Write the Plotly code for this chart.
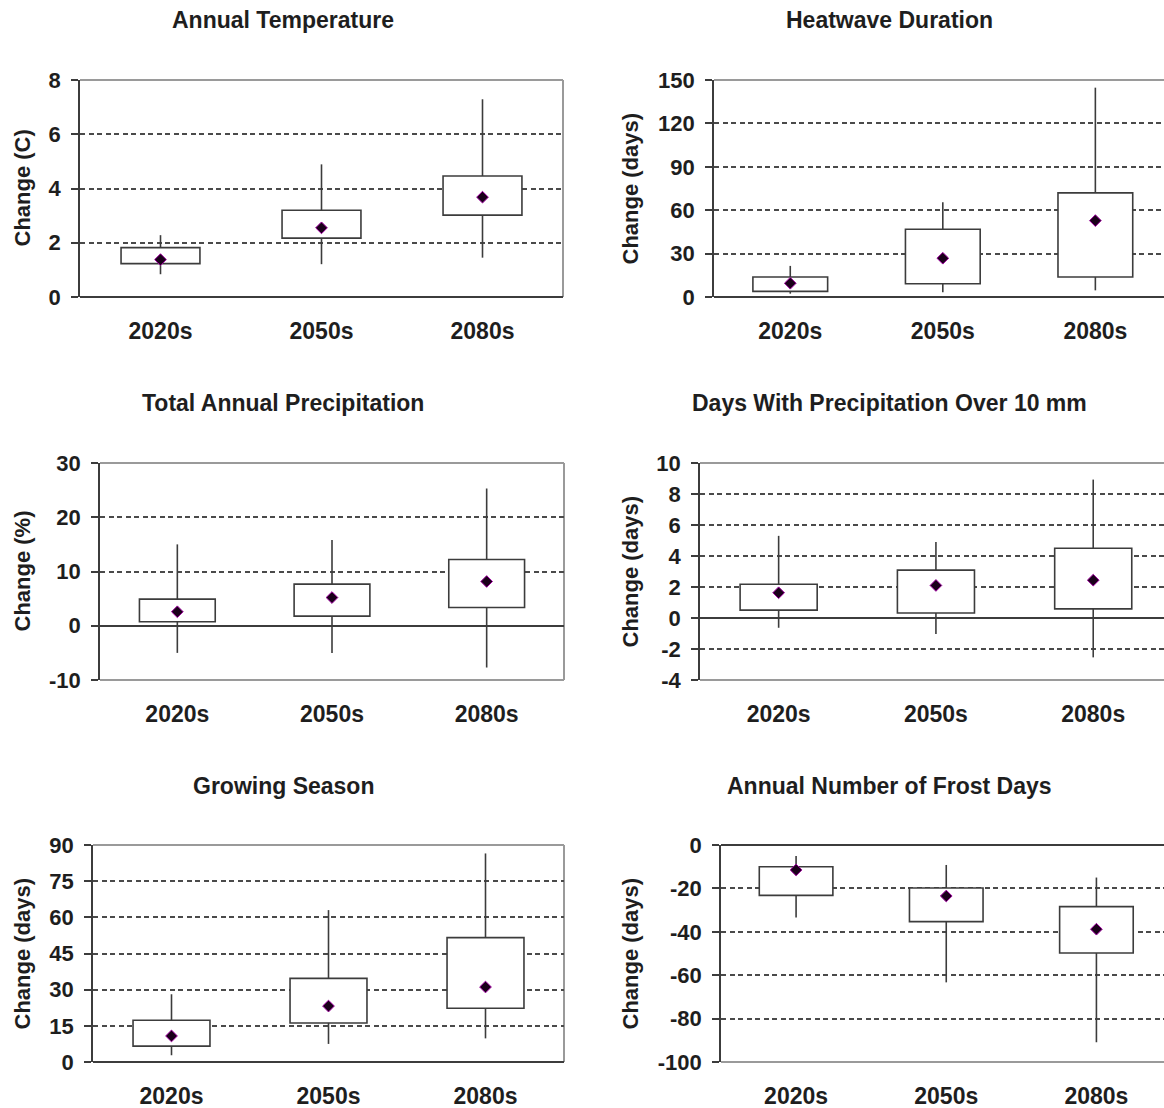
import plotly.graph_objects as go

W, H = 1164, 1108

categories = ["2020s", "2050s", "2080s"]

titles = ["Annual Temperature", "Heatwave Duration",
          "Total Annual Precipitation", "Days With Precipitation Over 10 mm",
          "Growing Season", "Annual Number of Frost Days"]
ytitles = ["Change (C)", "Change (days)", "Change (%)", "Change (days)",
           "Change (days)", "Change (days)"]

# per-panel statistics: min, q1, mean, q3, max for 2020s, 2050s, 2080s
temp_min = [0.84, 1.21, 1.45]
temp_q1 = [1.23, 2.17, 3.02]
temp_mean = [1.38, 2.55, 3.68]
temp_q3 = [1.82, 3.20, 4.46]
temp_max = [2.28, 4.89, 7.29]

heat_min = [2.3, 3.2, 4.6]
heat_q1 = [3.9, 9.2, 13.8]
heat_mean = [9.5, 26.8, 52.8]
heat_q3 = [13.8, 46.8, 72.0]
heat_max = [21.5, 65.5, 144.7]

prec_min = [-5.0, -5.0, -7.7]
prec_q1 = [0.74, 1.78, 3.37]
prec_mean = [2.58, 5.2, 8.16]
prec_q3 = [4.9, 7.67, 12.2]
prec_max = [15.0, 15.8, 25.3]

p10_min = [-0.63, -1.04, -2.54]
p10_q1 = [0.51, 0.32, 0.59]
p10_mean = [1.63, 2.1, 2.44]
p10_q3 = [2.18, 3.09, 4.5]
p10_max = [5.3, 4.91, 8.93]

grow_min = [2.8, 7.5, 9.8]
grow_q1 = [6.6, 16.2, 22.3]
grow_mean = [10.8, 23.2, 31.1]
grow_q3 = [17.3, 34.7, 51.6]
grow_max = [28.1, 63.0, 86.5]

frost_min = [-33.4, -63.3, -90.9]
frost_q1 = [-23.2, -35.3, -49.8]
frost_mean = [-11.5, -23.5, -38.8]
frost_q3 = [-10.0, -19.8, -28.4]
frost_max = [-5.1, -9.2, -15.0]

stats = [
    (temp_min, temp_q1, temp_mean, temp_q3, temp_max),
    (heat_min, heat_q1, heat_mean, heat_q3, heat_max),
    (prec_min, prec_q1, prec_mean, prec_q3, prec_max),
    (p10_min, p10_q1, p10_mean, p10_q3, p10_max),
    (grow_min, grow_q1, grow_mean, grow_q3, grow_max),
    (frost_min, frost_q1, frost_mean, frost_q3, frost_max),
]

# y tick values and labels (hyphen minus as in the reference)
ytickvals = [
    [0, 2, 4, 6, 8],
    [0, 30, 60, 90, 120, 150],
    [-10, 0, 10, 20, 30],
    [-4, -2, 0, 2, 4, 6, 8, 10],
    [0, 15, 30, 45, 60, 75, 90],
    [-100, -80, -60, -40, -20, 0],
]
yticktext = [[str(v) for v in vals] for vals in ytickvals]
yranges = [(0, 8), (0, 150), (-10, 30), (-4, 10), (0, 90), (-100, 0)]

# layout geometry in pixels (left, right, top, bottom)
boxes_px = [
    (80, 563, 80, 297), (714, 1164, 80, 297),
    (100, 564, 463, 680), (700, 1164, 463, 680),
    (93, 564, 845, 1062), (721, 1164, 845, 1062),
]
xranges = [(-0.5, 2.5), (-0.5, 2.45), (-0.5, 2.5), (-0.5, 2.45),
           (-0.5, 2.5), (-0.5, 2.45)]
title_y_px = [20, 20, 403, 403, 786, 786]
title_x_px = [283, 890]
ytitle_x_px = [22, 630]

LINE = "#3c3c3c"
TEXT = "#1e1e1e"
FONT = "Liberation Sans, Arial, sans-serif"

fig = go.Figure()
layout = dict(width=W, height=H, margin=dict(l=0, r=0, t=0, b=0, pad=0),
              autosize=False,
              paper_bgcolor="white", plot_bgcolor="white",
              showlegend=False, shapes=[], annotations=[])

for i in range(6):
    n = i + 1
    xa = "x" if n == 1 else f"x{n}"
    ya = "y" if n == 1 else f"y{n}"
    mn, q1, mean, q3, mx = stats[i]
    col = i % 2

    # whiskers (lower and upper parts, outside the box)
    wx, wy = [], []
    for c, a, b, d, e in zip(categories, mn, q1, q3, mx):
        wx += [c, c, None, c, c, None]
        wy += [a, b, None, d, e, None]
    fig.add_trace(go.Scatter(x=wx, y=wy, mode="lines", xaxis=xa, yaxis=ya,
                             line=dict(color=LINE, width=1.6),
                             hoverinfo="skip"))
    # boxes
    fig.add_trace(go.Bar(x=categories, y=[b - a for a, b in zip(q1, q3)],
                         base=q1, width=0.49, xaxis=xa, yaxis=ya,
                         marker=dict(color="white",
                                     line=dict(color=LINE, width=1.6))))
    # means
    fig.add_trace(go.Scatter(x=categories, y=mean, mode="markers",
                             xaxis=xa, yaxis=ya,
                             marker=dict(symbol="diamond", size=9,
                                         color="#1a001a",
                                         line=dict(color="#a000a0", width=1))))

    l, r, t, b = boxes_px[i]
    xdom = [l / W, r / W]
    ydom = [1 - b / H, 1 - t / H]
    key_x = "xaxis" if n == 1 else f"xaxis{n}"
    key_y = "yaxis" if n == 1 else f"yaxis{n}"
    layout[key_x] = dict(domain=xdom, anchor=ya, type="category",
                         categoryorder="array", categoryarray=categories,
                         range=list(xranges[i]), showgrid=False,
                         zeroline=False, showline=False, ticks="",
                         automargin=False, ticklabelstandoff=18,
                         tickfont=dict(family=FONT, size=23, color=TEXT,
                                       weight="bold"),
                         fixedrange=True)
    layout[key_y] = dict(domain=ydom, anchor=xa, range=list(yranges[i]),
                         tickmode="array", tickvals=ytickvals[i],
                         ticktext=yticktext[i], showgrid=True,
                         gridcolor="#4a4a4a", griddash="5px,3.5px",
                         gridwidth=1.5, zeroline=True, zerolinecolor=LINE,
                         zerolinewidth=2, showline=True, automargin=False,
                         linecolor=LINE, linewidth=1.8, ticks="outside",
                         ticklen=7, tickwidth=1.6, tickcolor=LINE,
                         ticklabelstandoff=6,
                         tickfont=dict(family=FONT, size=22, color=TEXT,
                                       weight="bold"),
                         fixedrange=True)

    xd = f"{xa} domain"
    yd = f"{ya} domain"
    gray = dict(color="#9a9a9a", width=2)
    layout["shapes"] += [
        dict(type="line", xref=xd, yref=yd, x0=0, x1=1, y0=1, y1=1,
             line=gray, layer="below"),
        dict(type="line", xref=xd, yref=yd, x0=0, x1=1, y0=0, y1=0,
             line=gray, layer="below"),
    ]
    if col == 0:
        layout["shapes"].append(
            dict(type="line", xref=xd, yref=yd, x0=1, x1=1, y0=0, y1=1,
                 line=gray, layer="below"))

    layout["annotations"] += [
        dict(text=titles[i], xref="paper", yref="paper",
             x=title_x_px[col] / W, y=1 - title_y_px[i] / H,
             xanchor="center", yanchor="middle", showarrow=False,
             font=dict(family=FONT, size=23, color=TEXT, weight="bold")),
        dict(text=ytitles[i], xref="paper", yref="paper",
             x=ytitle_x_px[col] / W, y=1 - ((t + b) / 2) / H,
             xanchor="center", yanchor="middle", textangle=-90,
             showarrow=False,
             font=dict(family=FONT, size=22, color=TEXT, weight="bold")),
    ]

fig.update_layout(**layout)
fig.write_html("out.html", config={"displayModeBar": False},
               post_script="document.body.style.margin='0px';")
